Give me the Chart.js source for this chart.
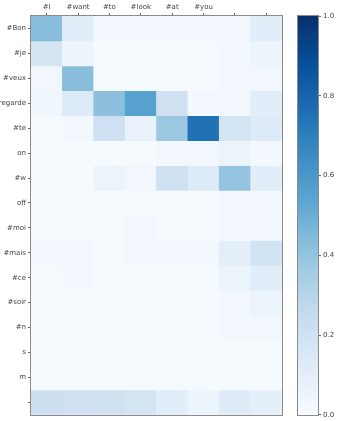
<!DOCTYPE html>
<html>
<head>
<meta charset="utf-8">
<script src="https://cdn.jsdelivr.net/npm/chart.js"></script>
<style>
  body { margin: 0; background: #fff; }
  .wrap { position: absolute; top: 0; height: 421px; }
  #heat { left: 0; width: 290px; }
  #bar { left: 290px; width: 53px; }
</style>
</head>
<body>
<div class="wrap" id="heat"><canvas id="heatChart"></canvas></div>
<div class="wrap" id="bar"><canvas id="barChart"></canvas></div>
<script>
// source words (columns) and target words (rows)
const xLabels = ['#I', '#want', '#to', '#look', '#at', '#you', '', ''];
const yLabels = ['#Bon', '#je', '#veux', '#regarde', '#te', 'on', '#w', 'off',
  '#moi', '#mais', '#ce', '#soir', '#n', 's', 'm', ''];

// attention weights, one row per target word
const weights = [
  [0.43, 0.11, 0.02, 0.02, 0.02, 0.02, 0.03, 0.11],
  [0.17, 0.05, 0.01, 0.01, 0.01, 0.01, 0.02, 0.05],
  [0.03, 0.43, 0.01, 0.01, 0.01, 0.01, 0.02, 0.03],
  [0.04, 0.13, 0.42, 0.56, 0.21, 0.02, 0.03, 0.11],
  [0.01, 0.02, 0.21, 0.07, 0.38, 0.75, 0.18, 0.13],
  [0.01, 0.01, 0.01, 0.01, 0.02, 0.03, 0.06, 0.02],
  [0.01, 0.01, 0.06, 0.03, 0.21, 0.13, 0.40, 0.11],
  [0.01, 0.01, 0.01, 0.01, 0.01, 0.01, 0.02, 0.02],
  [0.01, 0.01, 0.01, 0.02, 0.01, 0.01, 0.02, 0.02],
  [0.02, 0.03, 0.01, 0.03, 0.02, 0.02, 0.10, 0.19],
  [0.01, 0.02, 0.01, 0.01, 0.01, 0.01, 0.06, 0.11],
  [0.01, 0.01, 0.01, 0.01, 0.01, 0.01, 0.03, 0.06],
  [0.01, 0.01, 0.01, 0.01, 0.01, 0.01, 0.02, 0.03],
  [0.01, 0.01, 0.01, 0.01, 0.01, 0.01, 0.01, 0.01],
  [0.01, 0.01, 0.01, 0.01, 0.01, 0.01, 0.01, 0.01],
  [0.22, 0.21, 0.20, 0.18, 0.11, 0.05, 0.12, 0.09]
];

const colorbarTicks = [0, 0.2, 0.4, 0.6, 0.8, 1.0];

// matplotlib "Blues"
const blues = ['#f7fbff', '#deebf7', '#c6dbef', '#9ecae1', '#6baed6',
  '#4292c6', '#2171b5', '#08519c', '#08306b'];

function hexToRgb(h) {
  return [1, 3, 5].map(i => parseInt(h.substr(i, 2), 16));
}

function bluesColor(v) {
  v = Math.max(0, Math.min(1, v));
  const pos = v * (blues.length - 1);
  const i = Math.min(Math.floor(pos), blues.length - 2);
  const t = pos - i;
  const a = hexToRgb(blues[i]), b = hexToRgb(blues[i + 1]);
  const c = a.map((x, k) => Math.round(x + (b[k] - x) * t));
  return 'rgb(' + c.join(',') + ')';
}

const font = { family: 'DejaVu Sans', size: 7 };
const textColor = '#444';

// draws the frame round the plot area
const frame = {
  id: 'frame',
  afterDraw(chart) {
    const a = chart.chartArea;
    const ctx = chart.ctx;
    ctx.save();
    ctx.strokeStyle = '#8a8a8a';
    ctx.lineWidth = 1;
    ctx.strokeRect(Math.round(a.left) - 0.5, Math.round(a.top) - 0.5,
      Math.round(a.right - a.left) + 1, Math.round(a.bottom - a.top) + 1);
    ctx.restore();
  }
};

new Chart(document.getElementById('heatChart'), {
  type: 'bar',
  data: {
    labels: xLabels,
    datasets: yLabels.map((name, r) => ({
      label: name,
      data: xLabels.map(() => [r, r + 1]),
      backgroundColor: weights[r].map(bluesColor),
      borderWidth: 0,
      barPercentage: 1,
      categoryPercentage: 1,
      grouped: false
    }))
  },
  options: {
    responsive: true,
    maintainAspectRatio: false,
    animation: false,
    layout: { padding: { top: 0, right: 8, bottom: 4, left: 0 } },
    plugins: { legend: { display: false }, tooltip: { enabled: false } },
    scales: {
      x: {
        position: 'top',
        grid: { drawOnChartArea: false, tickLength: 3, color: '#666', offset: false },
        border: { display: false },
        ticks: { font: font, color: textColor, padding: 2, maxRotation: 0, autoSkip: false },
        afterFit: s => { s.height = 16; }
      },
      y: {
        type: 'linear',
        min: 0,
        max: yLabels.length,
        reverse: true,
        grid: { drawOnChartArea: false, tickLength: 3, color: '#666' },
        border: { display: false },
        afterBuildTicks: s => { s.ticks = yLabels.map((_, i) => ({ value: i + 0.5 })); },
        ticks: {
          font: font, color: textColor, padding: 2, autoSkip: false,
          callback: (v, i) => yLabels[i]
        },
        afterFit: s => { s.width = 31; }
      }
    }
  },
  plugins: [frame]
});

new Chart(document.getElementById('barChart'), {
  type: 'bar',
  data: {
    labels: [''],
    datasets: [{
      data: [[0, 1]],
      borderWidth: 0,
      barPercentage: 1,
      categoryPercentage: 1,
      backgroundColor: ctx => {
        const area = ctx.chart.chartArea;
        if (!area) return blues[4];
        const g = ctx.chart.ctx.createLinearGradient(0, area.bottom, 0, area.top);
        blues.forEach((c, i) => g.addColorStop(i / (blues.length - 1), c));
        return g;
      }
    }]
  },
  options: {
    responsive: true,
    maintainAspectRatio: false,
    animation: false,
    layout: { padding: { top: 16, right: 0, bottom: 4, left: 8 } },
    plugins: { legend: { display: false }, tooltip: { enabled: false } },
    scales: {
      x: { display: false },
      y: {
        position: 'right',
        min: 0,
        max: 1,
        grid: { drawOnChartArea: false, tickLength: 3, color: '#666' },
        border: { display: false },
        afterBuildTicks: s => { s.ticks = colorbarTicks.map(v => ({ value: v })); },
        ticks: { font: font, color: textColor, padding: 2, callback: v => v.toFixed(1) },
        afterFit: s => { s.width = 25; }
      }
    }
  },
  plugins: [frame]
});
</script>
</body>
</html>
